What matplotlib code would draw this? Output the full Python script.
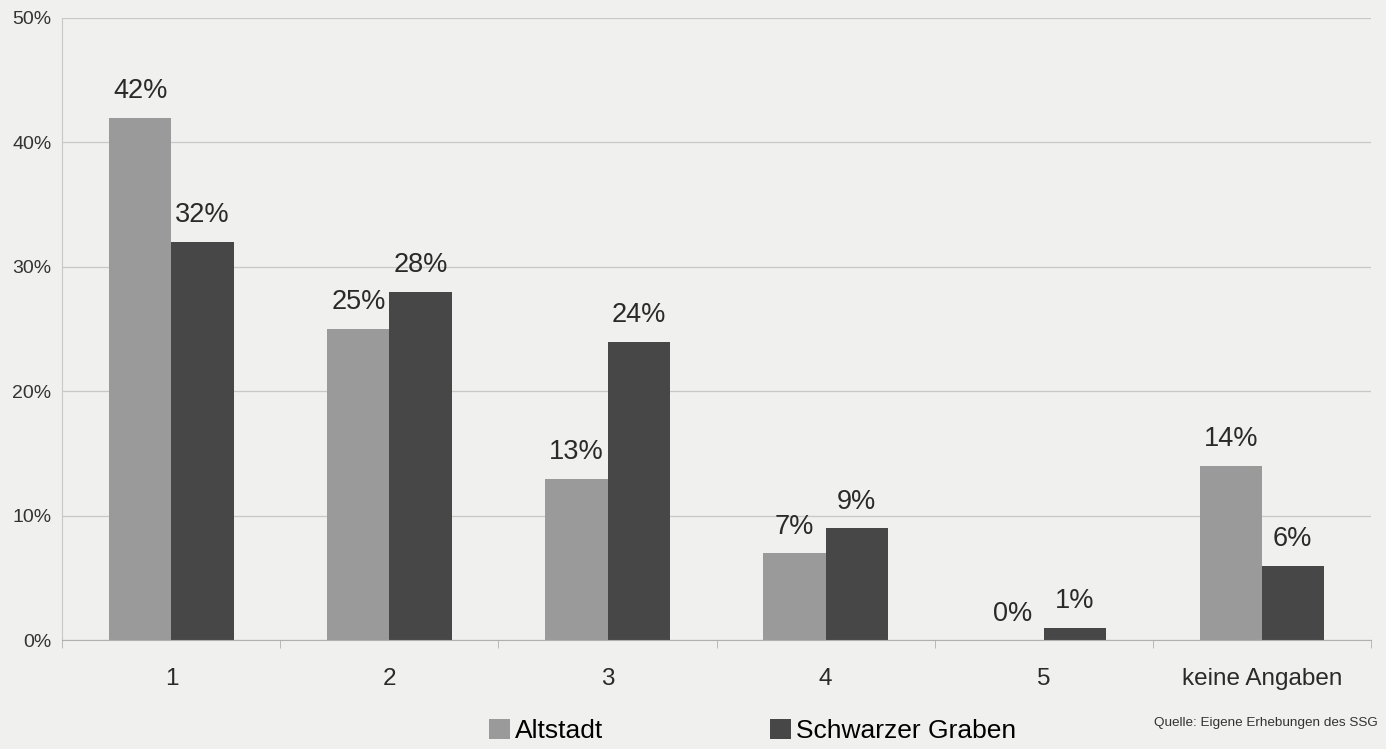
import matplotlib.pyplot as plt
import numpy as np

plt.rcParams['font.family'] = ['Liberation Sans', 'DejaVu Sans']

categories = ["1", "2", "3", "4", "5", "keine Angaben"]
altstadt = [42, 25, 13, 7, 0, 14]
schwarzer_graben = [32, 28, 24, 9, 1, 6]
yticks = [0, 10, 20, 30, 40, 50]

bg = "#f0f0ee"
fig = plt.figure(figsize=(13.86, 7.49), dpi=100, facecolor=bg)
ax = fig.add_axes([0.045, 0.145, 0.944, 0.831], facecolor=bg)

x = np.arange(len(categories))
w = 0.285
b1 = ax.bar(x - w / 2, altstadt, w, color="#9a9a9a", label="Altstadt")
b2 = ax.bar(x + w / 2, schwarzer_graben, w, color="#474747", label="Schwarzer Graben")

for bars, vals in ((b1, altstadt), (b2, schwarzer_graben)):
	for rect, v in zip(bars, vals):
		ax.text(rect.get_x() + rect.get_width() / 2, v + 1.1, "%d%%" % v,
			ha="center", va="bottom", fontsize=19.5, color="#2a2a2a")

ax.set_xlim(-0.5, len(categories) - 0.5)
ax.set_ylim(0, 50)
ax.set_yticks(yticks)
ax.set_yticklabels(["%d%%" % t for t in yticks], fontsize=14, color="#333333")
ax.yaxis.grid(True, color="#c8c8c8", linewidth=0.9)
ax.set_axisbelow(True)

ax.set_xticks(x)
ax.set_xticklabels(categories, fontsize=17.5, color="#2a2a2a")
ax.tick_params(axis="x", length=0, pad=20)
ax.set_xticks(np.arange(len(categories) + 1) - 0.5, minor=True)
ax.tick_params(axis="x", which="minor", length=6, color="#b0b0b0")
ax.tick_params(axis="y", length=0, pad=8)

for s in ("top", "right"):
	ax.spines[s].set_visible(False)
ax.spines["left"].set_color("#c8c8c8")
ax.spines["bottom"].set_color("#b0b0b0")

fig.legend(loc="center", bbox_to_anchor=(0.543, 0.024), ncol=2, frameon=False,
	fontsize=19, handlelength=0.8, handleheight=0.8, handletextpad=0.2,
	columnspacing=6.3)

fig.text(0.994, 0.035, "Quelle: Eigene Erhebungen des SSG", ha="right", va="center",
	fontsize=9.7, color="#333333")

fig.savefig("out.png", dpi=100, facecolor=bg)
